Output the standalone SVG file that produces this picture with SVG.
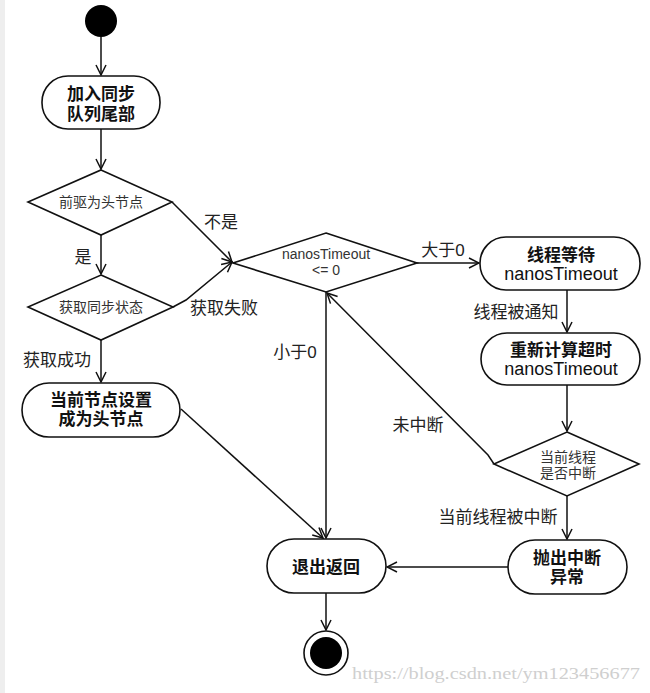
<svg xmlns="http://www.w3.org/2000/svg" width="650" height="693" viewBox="0 0 650 693">
<style>
.n{fill:#fff;stroke:#111;stroke-width:1.6}
.c{fill:none;stroke:#111;stroke-width:1.5}
.bt{font-family:"Liberation Sans","Noto Sans CJK SC",sans-serif;font-size:17px;font-weight:bold;fill:#111;text-anchor:middle}
.lt{font-family:"Liberation Sans","Noto Sans CJK SC",sans-serif;font-size:18px;fill:#111;text-anchor:middle}
.dt{font-family:"Liberation Sans","Noto Sans CJK SC",sans-serif;font-size:14px;fill:#333;text-anchor:middle}
.lb{font-family:"Liberation Sans","Noto Sans CJK SC",sans-serif;font-size:17px;fill:#222;text-anchor:middle}
</style>
<defs>
<marker id="a" viewBox="0 0 12 12" refX="11" refY="6" markerWidth="12" markerHeight="12" markerUnits="userSpaceOnUse" orient="auto">
<path d="M1,1 L11,6 L1,11" fill="none" stroke="#111" stroke-width="1.5"/>
</marker>
</defs>
<rect x="0" y="0" width="650" height="693" fill="#fff"/>
<rect x="0" y="0" width="5" height="693" fill="#eeeeee"/>

<g id="connectors">
<line class="c" x1="101" y1="37" x2="101" y2="75" marker-end="url(#a)"/>
<line class="c" x1="101" y1="129" x2="101" y2="169" marker-end="url(#a)"/>
<line class="c" x1="101" y1="235" x2="101" y2="274" marker-end="url(#a)"/>
<line class="c" x1="172" y1="202" x2="232" y2="262" marker-end="url(#a)"/>
<polyline class="c" points="173,307 186,300 232,262" marker-end="url(#a)"/>
<line class="c" x1="417" y1="263" x2="479" y2="263" marker-end="url(#a)"/>
<line class="c" x1="567" y1="290" x2="567" y2="332" marker-end="url(#a)"/>
<line class="c" x1="567" y1="385" x2="567" y2="431" marker-end="url(#a)"/>
<polyline class="c" points="494,464 488,455 327,293" marker-end="url(#a)"/>
<line class="c" x1="326" y1="292" x2="326" y2="538" marker-end="url(#a)"/>
<line class="c" x1="101" y1="340" x2="101" y2="382" marker-end="url(#a)"/>
<line class="c" x1="181" y1="409" x2="323" y2="538" marker-end="url(#a)"/>
<line class="c" x1="567" y1="496" x2="567" y2="539" marker-end="url(#a)"/>
<line class="c" x1="508" y1="567" x2="387" y2="567" marker-end="url(#a)"/>
<line class="c" x1="326" y1="593" x2="326" y2="630" marker-end="url(#a)"/>
<text class="lb" x="221" y="228">不是</text>
<text class="lb" x="83" y="263">是</text>
<text class="lb" x="224" y="314">获取失败</text>
<text class="lb" x="443" y="256">大于0</text>
<text class="lb" x="516" y="318">线程被通知</text>
<text class="lb" x="295" y="358">小于0</text>
<text class="lb" x="418" y="431">未中断</text>
<text class="lb" x="57" y="366">获取成功</text>
<text class="lb" x="498" y="523">当前线程被中断</text>
</g>

<g id="start"><circle cx="101" cy="21" r="16" fill="#000"/></g>

<g id="enqueue">
<rect class="n" x="42" y="76" width="118" height="53" rx="26"/>
<text class="bt" x="101" y="100">加入同步</text>
<text class="bt" x="101" y="120">队列尾部</text>
</g>

<g id="isHead">
<polygon class="n" points="101,170 172,202 101,235 28,202"/>
<text class="dt" x="101" y="207">前驱为头节点</text>
</g>

<g id="tryAcquire">
<polygon class="n" points="101,275 173,307 101,340 28,307"/>
<text class="dt" x="101" y="312">获取同步状态</text>
</g>

<g id="timeoutCheck">
<polygon class="n" points="326,233 417,263 326,292 233,263"/>
<text class="dt" x="326" y="259" font-size="15">nanosTimeout</text>
<text class="dt" x="326" y="275" font-size="15">&lt;= 0</text>
</g>

<g id="wait">
<rect class="n" x="480" y="237" width="160" height="53" rx="26"/>
<text class="bt" x="561" y="261">线程等待</text>
<text class="lt" x="561" y="280">nanosTimeout</text>
</g>

<g id="recalc">
<rect class="n" x="481" y="333" width="159" height="52" rx="26"/>
<text class="bt" x="561" y="356">重新计算超时</text>
<text class="lt" x="561" y="375">nanosTimeout</text>
</g>

<g id="interrupted">
<polygon class="n" points="567,432 639,464 567,496 494,464"/>
<text class="dt" x="568" y="462">当前线程</text>
<text class="dt" x="568" y="478">是否中断</text>
</g>

<g id="setHead">
<rect class="n" x="22" y="383" width="158" height="54" rx="27"/>
<text class="bt" x="101" y="406">当前节点设置</text>
<text class="bt" x="101" y="425">成为头节点</text>
</g>

<g id="exit">
<rect class="n" x="267" y="539" width="119" height="54" rx="27"/>
<text class="bt" x="326" y="573">退出返回</text>
</g>

<g id="throw">
<rect class="n" x="508" y="540" width="119" height="54" rx="27"/>
<text class="bt" x="567" y="564">抛出中断</text>
<text class="bt" x="567" y="583">异常</text>
</g>

<g id="end">
<circle cx="326" cy="653" r="22" fill="#fff" stroke="#111" stroke-width="1.6"/>
<circle cx="326" cy="653" r="16" fill="#000"/>
</g>

<text x="352" y="679" font-family="Liberation Serif, serif" font-size="16" fill="#cfcfcf" textLength="288" lengthAdjust="spacingAndGlyphs">https://blog.csdn.net/ym123456677</text>
</svg>
